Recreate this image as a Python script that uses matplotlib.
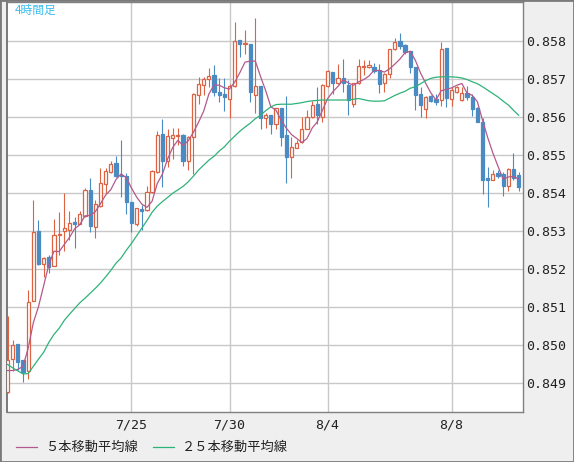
import numpy as np
import pandas as pd
import matplotlib
matplotlib.use("Agg")
import matplotlib.pyplot as plt
from matplotlib.lines import Line2D
from matplotlib.patches import Rectangle

# 4-hour candles (index 0..99)
opens = [0.84877, 0.84965, 0.85003, 0.84961, 0.84934, 0.85118, 0.85300, 0.85215, 0.85232, 0.85210,
         0.85290, 0.85300, 0.85304, 0.85324, 0.85320, 0.85339, 0.85408, 0.85311, 0.85366, 0.85423,
         0.85456, 0.85480, 0.85449, 0.85446, 0.85376, 0.85320, 0.85358, 0.85355, 0.85402, 0.85456,
         0.85557, 0.85485, 0.85544, 0.85550, 0.85553, 0.85485, 0.85547, 0.85658, 0.85684, 0.85699,
         0.85711, 0.85667, 0.85661, 0.85647, 0.85682, 0.85803, 0.85791, 0.85792, 0.85658, 0.85682,
         0.85599, 0.85605, 0.85583, 0.85623, 0.85553, 0.85494, 0.85520, 0.85535, 0.85570, 0.85601,
         0.85634, 0.85601, 0.85682, 0.85718, 0.85690, 0.85703, 0.85684, 0.85634, 0.85690, 0.85731,
         0.85733, 0.85733, 0.85724, 0.85689, 0.85713, 0.85778, 0.85801, 0.85789, 0.85774, 0.85732,
         0.85662, 0.85622, 0.85655, 0.85649, 0.85645, 0.85781, 0.85649, 0.85667, 0.85645, 0.85663,
         0.85654, 0.85624, 0.85588, 0.85440, 0.85436, 0.85452, 0.85450, 0.85418, 0.85465, 0.85447]
highs = [0.85077, 0.85013, 0.85004, 0.84962, 0.85145, 0.85383, 0.85329, 0.85233, 0.85237, 0.85332,
         0.85351, 0.85401, 0.85353, 0.85338, 0.85353, 0.85413, 0.85440, 0.85382, 0.85467, 0.85466,
         0.85485, 0.85497, 0.85539, 0.85452, 0.85378, 0.85362, 0.85368, 0.85419, 0.85460, 0.85563,
         0.85594, 0.85568, 0.85572, 0.85572, 0.85555, 0.85550, 0.85663, 0.85706, 0.85706, 0.85730,
         0.85737, 0.85702, 0.85702, 0.85686, 0.85851, 0.85804, 0.85829, 0.85793, 0.85860, 0.85683,
         0.85610, 0.85606, 0.85625, 0.85624, 0.85656, 0.85548, 0.85541, 0.85601, 0.85618, 0.85643,
         0.85680, 0.85686, 0.85724, 0.85719, 0.85739, 0.85752, 0.85697, 0.85690, 0.85753, 0.85750,
         0.85750, 0.85742, 0.85741, 0.85716, 0.85779, 0.85807, 0.85820, 0.85791, 0.85775, 0.85733,
         0.85680, 0.85655, 0.85658, 0.85662, 0.85798, 0.85782, 0.85680, 0.85682, 0.85680, 0.85682,
         0.85661, 0.85628, 0.85597, 0.85468, 0.85462, 0.85461, 0.85455, 0.85466, 0.85507, 0.85456]
lows = [0.84874, 0.84934, 0.84936, 0.84903, 0.84912, 0.85118, 0.85211, 0.85180, 0.85190, 0.85210,
        0.85237, 0.85249, 0.85278, 0.85257, 0.85318, 0.85337, 0.85298, 0.85282, 0.85364, 0.85400,
        0.85453, 0.85444, 0.85390, 0.85345, 0.85298, 0.85313, 0.85304, 0.85353, 0.85400, 0.85454,
        0.85417, 0.85469, 0.85491, 0.85526, 0.85471, 0.85461, 0.85450, 0.85634, 0.85658, 0.85678,
        0.85656, 0.85640, 0.85616, 0.85597, 0.85680, 0.85759, 0.85766, 0.85640, 0.85611, 0.85568,
        0.85572, 0.85557, 0.85568, 0.85524, 0.85427, 0.85439, 0.85518, 0.85533, 0.85568, 0.85598,
        0.85583, 0.85588, 0.85680, 0.85662, 0.85688, 0.85667, 0.85605, 0.85626, 0.85688, 0.85711,
        0.85729, 0.85716, 0.85663, 0.85667, 0.85702, 0.85776, 0.85779, 0.85766, 0.85715, 0.85618,
        0.85601, 0.85597, 0.85641, 0.85632, 0.85629, 0.85627, 0.85629, 0.85663, 0.85643, 0.85645,
        0.85603, 0.85588, 0.85397, 0.85364, 0.85434, 0.85440, 0.85392, 0.85405, 0.85436, 0.85405]
closes = [0.84961, 0.85002, 0.84956, 0.84930, 0.85114, 0.85297, 0.85213, 0.85231, 0.85206, 0.85291,
          0.85292, 0.85308, 0.85322, 0.85320, 0.85345, 0.85408, 0.85313, 0.85371, 0.85426, 0.85458,
          0.85478, 0.85446, 0.85446, 0.85377, 0.85322, 0.85360, 0.85353, 0.85402, 0.85458, 0.85554,
          0.85485, 0.85551, 0.85554, 0.85552, 0.85485, 0.85548, 0.85661, 0.85687, 0.85699, 0.85709,
          0.85667, 0.85658, 0.85653, 0.85682, 0.85801, 0.85791, 0.85796, 0.85667, 0.85682, 0.85599,
          0.85605, 0.85583, 0.85623, 0.85548, 0.85496, 0.85522, 0.85532, 0.85568, 0.85601, 0.85633,
          0.85605, 0.85684, 0.85721, 0.85690, 0.85704, 0.85691, 0.85645, 0.85689, 0.85734, 0.85735,
          0.85737, 0.85721, 0.85686, 0.85713, 0.85778, 0.85798, 0.85788, 0.85770, 0.85732, 0.85658,
          0.85632, 0.85653, 0.85643, 0.85640, 0.85779, 0.85651, 0.85671, 0.85678, 0.85663, 0.85653,
          0.85622, 0.85588, 0.85434, 0.85436, 0.85450, 0.85446, 0.85418, 0.85465, 0.85441, 0.85417]

# first 4 values of the 5-bar MA (they depend on bars left of the chart)
ma5_head = [0.84934, 0.84934, 0.84937, 0.84945]

# 25-bar MA as drawn on the chart
ma25 = [0.84950, 0.84941, 0.84933, 0.84925, 0.84926, 0.84945, 0.84964, 0.84982, 0.85008, 0.85029,
        0.85045, 0.85066, 0.85082, 0.85097, 0.85112, 0.85124, 0.85137, 0.85150, 0.85164, 0.85180,
        0.85197, 0.85216, 0.85230, 0.85250, 0.85268, 0.85288, 0.85308, 0.85328, 0.85350, 0.85366,
        0.85378, 0.85389, 0.85400, 0.85409, 0.85418, 0.85430, 0.85445, 0.85461, 0.85474, 0.85487,
        0.85497, 0.85511, 0.85522, 0.85537, 0.85550, 0.85563, 0.85574, 0.85584, 0.85596, 0.85605,
        0.85617, 0.85627, 0.85633, 0.85634, 0.85634, 0.85634, 0.85636, 0.85638, 0.85641, 0.85643,
        0.85644, 0.85645, 0.85645, 0.85645, 0.85645, 0.85645, 0.85645, 0.85647, 0.85649, 0.85646,
        0.85643, 0.85642, 0.85642, 0.85643, 0.85650, 0.85657, 0.85663, 0.85668, 0.85676, 0.85680,
        0.85688, 0.85696, 0.85702, 0.85705, 0.85706, 0.85706, 0.85706, 0.85705, 0.85703, 0.85699,
        0.85693, 0.85688, 0.85680, 0.85671, 0.85662, 0.85653, 0.85642, 0.85632, 0.85618, 0.85605]

date_pos = [24, 43, 62, 86]
date_labels = ["7/25", "7/30", "8/4", "8/8"]
y_ticks = [0.849, 0.850, 0.851, 0.852, 0.853, 0.854, 0.855, 0.856, 0.857, 0.858]

UP = "#dc6242"
DOWN = "#4a8bc3"
MA5_C = "#b35a8c"
MA25_C = "#2fb27a"
BG = "#efefef"

o = np.array(opens)
h = np.array(highs)
l = np.array(lows)
c = np.array(closes)
x = np.arange(len(c))
up = c >= o

ma5 = pd.Series(closes).rolling(5).mean()
ma5.iloc[:4] = ma5_head

W, H = 574, 462
fig = plt.figure(figsize=(W / 100, H / 100), dpi=100, facecolor=BG)
ax = fig.add_axes([7 / W, 1 - 412 / H, 516.3 / W, 410.5 / H])
ax.set_facecolor("white")

# wicks
ax.vlines(x[up], l[up], h[up], color=UP, lw=0.8, zorder=2)
ax.vlines(x[~up], l[~up], h[~up], color=DOWN, lw=0.8, zorder=2)
# bodies
bot = np.minimum(o, c)
ht = np.abs(c - o)
ax.bar(x[up], ht[up], bottom=bot[up], width=0.62, facecolor="white",
       edgecolor=UP, lw=0.9, zorder=3)
ax.bar(x[~up], ht[~up], bottom=bot[~up], width=0.62, facecolor=DOWN,
       edgecolor=DOWN, lw=0.9, zorder=3)

ax.plot(x, ma5, color=MA5_C, lw=0.9, zorder=4)
ax.plot(x, ma25, color=MA25_C, lw=0.9, zorder=4)

ax.set_xlim(-0.1, 99.9)
ax.set_ylim(0.84825, 0.85904)
ax.set_yticks(y_ticks)
ax.set_yticklabels(["%.3f" % v for v in y_ticks])
ax.set_xticks(date_pos)
ax.set_xticklabels(date_labels)
ax.yaxis.tick_right()
ax.tick_params(axis="y", length=0, pad=2, labelsize=9.5, labelcolor="#222222")
ax.tick_params(axis="x", length=0, pad=5, labelsize=9.5, labelcolor="#222222")
for t in ax.get_xticklabels() + ax.get_yticklabels():
    t.set_family("DejaVu Sans Mono")
ax.grid(True, color="#c8c8c8", lw=1)
ax.set_axisbelow(True)
for s in ax.spines.values():
    s.set_color("#808080")
    s.set_linewidth(1)
ax.spines["left"].set_color("#6f6f6f")
ax.spines["left"].set_linewidth(1.3)

jp = ["Noto Sans CJK JP", "DejaVu Sans"]
fig.text(15 / W, 1 - 4 / H, "4時間足", color="#3cbdee", fontsize=8.5,
         family=jp, va="top", ha="left")

# legend row
ly = 1 - 447 / H
fig.add_artist(Line2D([16 / W, 37 / W], [ly, ly], color=MA5_C, lw=0.9))
fig.text(45 / W, ly, "５本移動平均線", fontsize=9.5, family=jp, va="center", color="#222222")
fig.add_artist(Line2D([153 / W, 174 / W], [ly, ly], color=MA25_C, lw=0.9))
fig.text(182 / W, ly, "２５本移動平均線", fontsize=9.5, family=jp, va="center", color="#222222")

# outer frame
fig.add_artist(Rectangle((0, 0), 1, 1, transform=fig.transFigure, fill=False,
                         edgecolor="#7a7a7a", lw=2))

fig.savefig("out.png", dpi=100, facecolor=BG)
